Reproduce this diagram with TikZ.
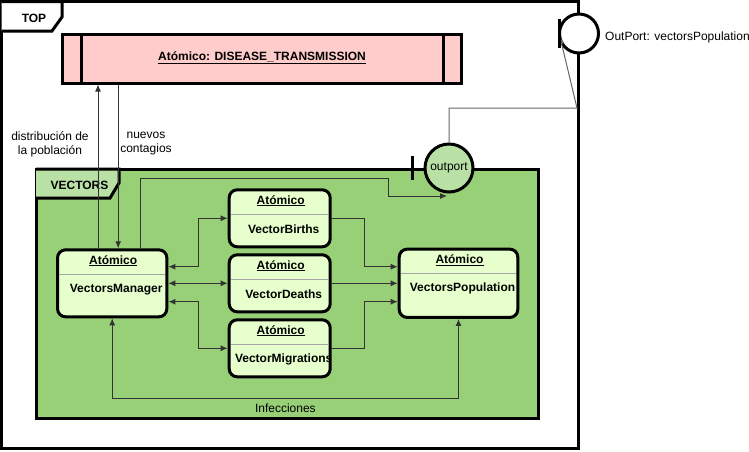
\documentclass[tikz,border=0pt]{standalone}
\usepackage{fontspec}
\setmainfont{Liberation Sans}
\usetikzlibrary{shapes, arrows.meta, calc, positioning}
\definecolor{diseasepink}{HTML}{FFCCCC}
\definecolor{vecgreen}{HTML}{97D077}
\definecolor{tabgreen}{HTML}{B9E0A5}
\definecolor{atomgreen}{HTML}{E6FFCC}
\definecolor{wire}{HTML}{333333}
\definecolor{portwire}{HTML}{666666}
\tikzset{
    x=1pt, y=-1pt,
    every node/.style = {font=\fontsize{12}{14}\selectfont, text=black},
    thickbox/.style = {draw, line width=3pt}, % frames, ports and model boxes
    atom/.style = {rectangle, rounded corners=8pt, draw, line width=3pt, fill=atomgreen, inner sep=0pt},
    divider/.style = {draw=black!35, line width=1pt},
    hdr/.style = {font=\bfseries\fontsize{12}{14}\selectfont, inner sep=0pt},
    conn/.style = {draw=wire, line width=1pt, -{Latex[length=7pt,width=6pt]}},
    biconn/.style = {conn, {Latex[length=7pt,width=6pt]}-{Latex[length=7pt,width=6pt]}},
    porttick/.style = {draw, line width=3pt},
    lbl/.style = {align=center, inner sep=0pt}
}
\begin{document}
\begin{tikzpicture}
  \useasboundingbox (0,0) rectangle (749,451);
  % TOP coupled model
  \draw[thickbox, fill=white] (1.5,1.5) rectangle (578.5,448.3);
  \draw[thickbox, fill=white] (1.5,1.5) -- (62,1.5) -- (62,17) -- (52,31) -- (1.5,31);
  \node[hdr] (top) at (34,18) {TOP};

  % DISEASE_TRANSMISSION
  \node[thickbox, fill=diseasepink, minimum width=399pt, minimum height=48.5pt, inner sep=0pt] (disease) at (262,58.75) {};
  \draw[line width=3pt] ([xshift=20pt]disease.north west) -- ([xshift=20pt]disease.south west)
                        ([xshift=-20pt]disease.north east) -- ([xshift=-20pt]disease.south east);
  \node[hdr] (diseaselbl) at (262,58) {\underline{Atómico: DISEASE\_TRANSMISSION}};

  % VECTORS coupled model
  \draw[thickbox, fill=vecgreen] (36,169) rectangle (538,418.8);
  \draw[thickbox, fill=tabgreen] (36,169) -- (119,169) -- (119,183) -- (110,198) -- (36,198);
  \node[hdr] (vectors) at (79.5,185) {VECTORS};

  % atomic models
  \foreach \nd/\cx/\cy/\w/\h/\mname in {mgr/112.2/283.3/109.3pt/67pt/VectorsManager,
      births/279.7/218.3/101pt/57pt/VectorBirths, deaths/279.7/283.3/101pt/57pt/VectorDeaths,
      migr/279.7/348.3/101pt/57pt/VectorMigrations, pop/458.5/283.3/118.6pt/68.3pt/VectorsPopulation}
  {
    \node[atom, minimum width=\w, minimum height=\h] (\nd) at (\cx,\cy) {};
    \draw[divider] ($(\nd.north west)+(3,26)$) -- ($(\nd.north east)+(-3,26)$);
    \node[hdr] (\nd-kind) at ($(\nd.north)+(1,12.5)$) {\underline{Atómico}};
    \begin{scope}
      \clip ($(\nd.north west)+(3,3)$) rectangle ($(\nd.south east)+(-3,-3)$);
      \node[hdr] (\nd-name) at ($(\nd.north)+(4,41)$) {\mname};
    \end{scope}
  }

  % links with DISEASE_TRANSMISSION
  \coordinate (up) at ([xshift=-14.2pt]mgr.north);
  \coordinate (down) at ([xshift=6pt]mgr.north);
  \draw[conn] (up) -- (up |- disease.south);
  \draw[conn] (down |- disease.south) -- (down);
  \node[lbl] (distlbl) at (50,144) {distribución de\\la población};
  \node[lbl] (nuevlbl) at (146,144) {nuevos\\contagios};

  % internal couplings
  \draw[biconn] ([yshift=16.6pt]mgr.east) -- ++(30,0) |- (births.west);
  \draw[biconn] (mgr.east) -- (deaths.west);
  \draw[biconn] ([yshift=-18.4pt]mgr.east) -- ++(30,0) |- (migr.west);
  \draw[conn] (births.east) -- ++(33,0) |- ([yshift=16.6pt]pop.west);
  \draw[conn] (deaths.east) -- (pop.west);
  \draw[conn] (migr.east) -- ++(33,0) |- ([yshift=-18.4pt]pop.west);
  \draw[biconn] (mgr.south) -- ++(0,80) -| (pop.south) node[pos=0.25, below=1.5pt] (inflbl) {Infecciones};

  % output ports
  \node[circle, thickbox, fill=tabgreen, minimum size=48pt, inner sep=0pt] (outport) at (449,168) {outport};
  \draw[porttick] (412.3,156) -- (412.3,180);
  \coordinate (portin) at ($(outport.south)+(-2,2.5)$);
  \coordinate (toport) at ([xshift=28pt]mgr.north);
  \draw[conn] (toport) -- ++(0,-70) -- ++(248,0) |- (portin);

  \node[circle, thickbox, fill=white, minimum size=39pt, inner sep=0pt] (outP) at (579,33.5) {};
  \node[right=5pt of outP, yshift=-3.5pt, inner sep=0pt] (outPlbl) {OutPort: vectorsPopulation};
  \coordinate (portend) at ($(outP.west)+(2,3.5)$);
  \draw[draw=portwire, line width=1pt, -{Latex[length=7pt,width=6pt]}] (outport.north) |- (577,108) -- (portend);
  \draw[porttick] (559.3,19) -- (559.3,48);
\end{tikzpicture}
\end{document}
